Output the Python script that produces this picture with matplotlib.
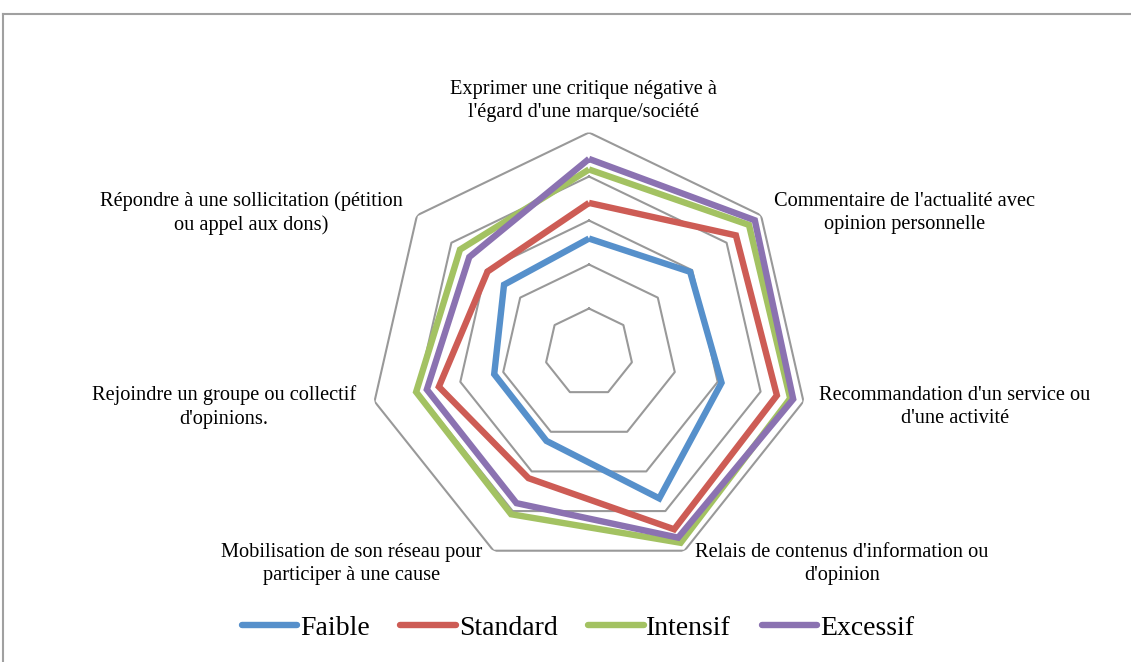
import numpy as np
import matplotlib
matplotlib.use("Agg")
import matplotlib.pyplot as plt
from matplotlib.lines import Line2D

categories = [
    "Exprimer une critique négative à\nl'égard d'une marque/société",
    "Commentaire de l'actualité avec\nopinion personnelle",
    "Recommandation d'un service ou\nd'une activité",
    "Relais de contenus d'information ou\nd'opinion",
    "Mobilisation de son réseau pour\nparticiper à une cause",
    "Rejoindre un groupe ou collectif\nd'opinions.",
    "Répondre à une sollicitation (pétition\nou appel aux dons)",
]
series_names = ["Faible", "Standard", "Intensif", "Excessif"]
faible = [2.59, 2.94, 3.09, 3.68, 2.23, 2.21, 2.47]
standard = [3.40, 4.27, 4.38, 4.46, 3.17, 3.50, 2.95]
intensif = [4.16, 4.65, 4.69, 4.80, 4.08, 4.03, 3.75]
excessif = [4.40, 4.82, 4.76, 4.67, 3.80, 3.78, 3.48]
grid_levels = [1, 2, 3, 4, 5]

colors = ["#5690CB", "#CD5C55", "#A3C262", "#8B72B1"]

W, H = 1131, 662
fig = plt.figure(figsize=(W / 100, H / 100), dpi=100)
fig.patch.set_facecolor("white")

cx, cy, R = 589, 352.5, 220
ax = fig.add_axes([(cx - R) / W, (H - cy - R) / H, 2 * R / W, 2 * R / H], projection="polar")
ax.set_theta_offset(np.pi / 2)
ax.set_theta_direction(-1)
ax.set_ylim(0, 5)
ax.grid(False)
ax.set_xticks([])
ax.set_yticks([])
ax.spines["polar"].set_visible(False)
ax.patch.set_alpha(0)

n = len(categories)
angles = np.linspace(0, 2 * np.pi, n, endpoint=False)
ang_closed = np.concatenate([angles, angles[:1]])

for lv in grid_levels:
    ax.plot(ang_closed, [lv] * (n + 1), color="#999999", lw=1.5, zorder=1)

for vals, col, name in zip([faible, standard, intensif, excessif], colors, series_names):
    v = list(vals) + [vals[0]]
    ax.plot(ang_closed, v, color=col, lw=4.6, label=name, zorder=3,
            solid_joinstyle="miter", solid_capstyle="butt")

label_pos = [(583, 101), (905, 213), (955, 407), (842, 564), (352, 564), (224, 407), (251, 213)]
for txt, (px, py) in zip(categories, label_pos):
    fig.text(px / W, 1 - py / H, txt, ha="center", va="center", multialignment="center",
             fontsize=14.7, family="Liberation Serif", linespacing=1.3, color="black")

handles = [Line2D([0], [0], color=c, lw=4.6, solid_capstyle="round") for c in colors]
leg = fig.legend(handles, series_names, loc="center", bbox_to_anchor=(578 / W, 1 - 628 / H),
                 ncol=4, frameon=False, prop={"family": "Liberation Serif", "size": 20},
                 handlelength=2.0, handletextpad=0.1, columnspacing=1.1)

# outer chart border (top and left visible)
fig.add_artist(Line2D([3 / W, 1.0], [1 - 14 / H, 1 - 14 / H], color="#A0A0A0", lw=1.5,
                      transform=fig.transFigure))
fig.add_artist(Line2D([3 / W, 3 / W], [0, 1 - 14 / H], color="#A0A0A0", lw=1.5,
                      transform=fig.transFigure))

fig.savefig("out.png", dpi=100, facecolor="white")
